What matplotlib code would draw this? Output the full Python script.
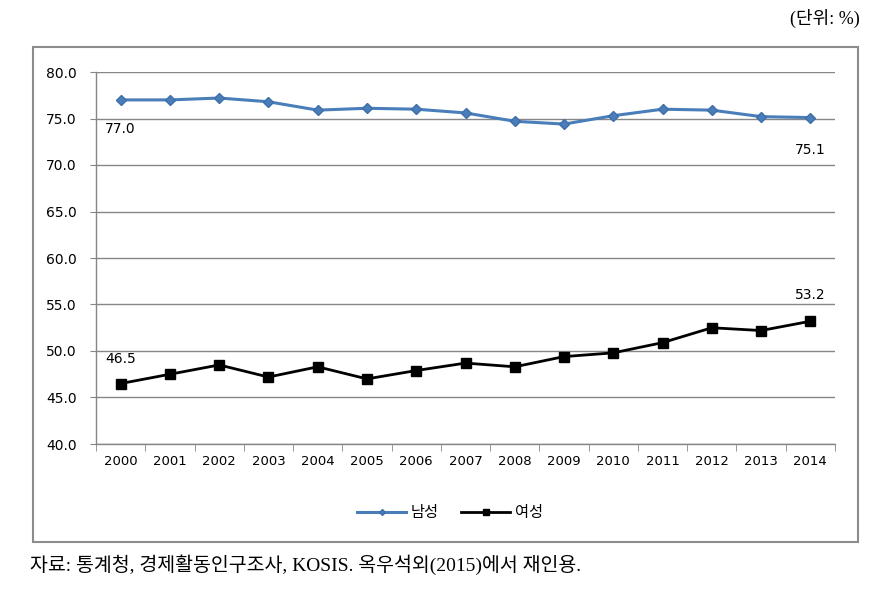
import matplotlib.pyplot as plt
from matplotlib.patches import Rectangle

plt.rcParams['font.family'] = ['DejaVu Sans', 'Noto Sans CJK KR']

years = ['2000', '2001', '2002', '2003', '2004', '2005', '2006', '2007',
         '2008', '2009', '2010', '2011', '2012', '2013', '2014']
male = [77.0, 77.0, 77.2, 76.8, 75.9, 76.1, 76.0, 75.6, 74.7, 74.4, 75.3,
        76.0, 75.9, 75.2, 75.1]
female = [46.5, 47.5, 48.5, 47.2, 48.3, 47.0, 47.9, 48.7, 48.3, 49.4, 49.8,
          50.9, 52.5, 52.2, 53.2]
yticks = [40, 45, 50, 55, 60, 65, 70, 75, 80]

fig = plt.figure(figsize=(8.8, 5.95), dpi=100)

# outer chart border
fig.patches.append(Rectangle((33 / 880, 1 - 542 / 595), 825 / 880, 495 / 595,
                             transform=fig.transFigure, fill=False,
                             edgecolor='#8c8c8c', linewidth=1.5))

ax = fig.add_axes([96 / 880, 1 - 444 / 595, 739 / 880, 372 / 595])
x = list(range(len(years)))

ax.plot(x, male, color='#4a7ebb', marker='D', markersize=5, linewidth=2.2,
        markeredgecolor='#3f6fa8', label='남성')
ax.plot(x, female, color='black', marker='s', markersize=7, linewidth=2,
        label='여성')

ax.set_xlim(-0.5, len(years) - 0.5)
ax.set_ylim(40, 80)
ax.set_yticks(yticks)
ax.set_yticklabels([f'{v:.1f}' for v in yticks], fontsize=10)
ax.set_xticks(x)
ax.set_xticklabels(years, fontsize=9.5)
ax.set_xticks([i - 0.5 for i in range(len(years) + 1)], minor=True)
ax.tick_params(axis='x', which='minor', length=5, color='#868686',
               direction='out')
ax.tick_params(axis='x', which='major', pad=8, length=0)
ax.tick_params(axis='y', length=4, color='#868686', pad=10)

ax.grid(axis='y', color='#868686', linewidth=1)
ax.set_axisbelow(True)
for s in ['top', 'right']:
    ax.spines[s].set_visible(False)
for s in ['left', 'bottom']:
    ax.spines[s].set_color('#868686')
    ax.spines[s].set_linewidth(1)

# data labels
ax.annotate(f'{male[0]:.1f}', (x[0], male[0]), xytext=(0, -24),
            textcoords='offset points', ha='center', fontsize=10)
ax.annotate(f'{male[-1]:.1f}', (x[-1], male[-1]), xytext=(0, -26),
            textcoords='offset points', ha='center', fontsize=10)
ax.annotate(f'{female[0]:.1f}', (x[0], female[0]), xytext=(0, 15),
            textcoords='offset points', ha='center', fontsize=10)
ax.annotate(f'{female[-1]:.1f}', (x[-1], female[-1]), xytext=(0, 16),
            textcoords='offset points', ha='center', fontsize=10)

leg = fig.legend(loc='center', bbox_to_anchor=(450 / 880, 1 - 513 / 595),
                 ncol=2, frameon=False, fontsize=11, handlelength=3.2,
                 markerscale=0.6, columnspacing=1.5, handletextpad=0.3)
for t in leg.get_texts():
    t.set_family('Noto Sans CJK KR')

serif_kr = ['Liberation Serif', 'Noto Sans CJK KR']
fig.text(860 / 880, 1 - 18 / 595, '(단위: %)', ha='right', va='center',
         fontsize=13, family=serif_kr)
fig.text(30 / 880, 1 - 565 / 595,
         '자료: 통계청, 경제활동인구조사, KOSIS. 옥우석외(2015)에서 재인용.',
         ha='left', va='center', fontsize=14, family=serif_kr)

plt.savefig('out.png', dpi=100)
